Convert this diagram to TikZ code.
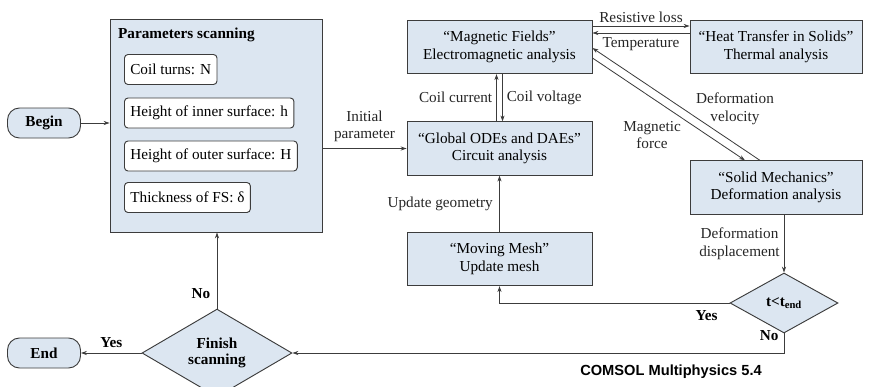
\documentclass[tikz,border=0pt]{standalone}
\usepackage{fontspec}
\setmainfont{Liberation Serif}
\newfontfamily\comsolfont{Liberation Sans}
\usetikzlibrary{arrows.meta,positioning,shapes.geometric,calc}
\definecolor{boxfill}{HTML}{DCE6F1}
\definecolor{lineink}{HTML}{3C3C3C}

\begin{document}
\begin{tikzpicture}[
  x=0.03cm, y=-0.03cm,
  font=\fontsize{13}{15}\selectfont,
  term/.style={draw=lineink, fill=boxfill, line width=0.8pt, rounded corners=0.36cm, minimum width=2.19cm, minimum height=0.9cm, font=\fontsize{13}{15}\selectfont\bfseries},
  blk/.style={draw=lineink, fill=boxfill, line width=0.8pt, minimum width=5.55cm, minimum height=1.6cm, align=center},
  blkr/.style={blk, minimum width=5.16cm},
  parbox/.style={draw=lineink, fill=white, line width=0.8pt, rounded corners=3pt, minimum height=0.9cm, inner xsep=5pt, anchor=west},
  dec/.style={diamond, draw=lineink, fill=boxfill, line width=0.8pt, inner sep=0pt, align=center, font=\fontsize{13}{14}\selectfont\bfseries},
  flow/.style={-{Stealth[length=5pt,width=3.5pt]}, draw=lineink, line width=0.7pt},
  lbl/.style={align=center, text=black!85},
  yn/.style={font=\fontsize{13}{15}\selectfont\bfseries},
]
\useasboundingbox (0,0) rectangle (870,386);
% start, end
\node[term] (begin) at (44,123) {Begin};
\node[term] (end) at (44,353) {End};
% parameter scan block
\node[draw=lineink, fill=boxfill, line width=0.8pt, minimum width=6.36cm, minimum height=6.39cm] (scan) at (216,125.5) {};
\node[font=\fontsize{13}{15}\selectfont\bfseries, anchor=west] (scantitle) at (114,35) {Parameters scanning};
\node[parbox] (pN) at (124,69.5) {Coil turns: N};
\node[parbox] (ph) at (124,113) {Height of inner surface: h};
\node[parbox] (pH) at (124,156) {Height of outer surface: H};
\node[parbox] (pd) at (124,197.5) {Thickness of FS: δ};
% physics modules
\node[blk] (mf) at (499.5,47) {``Magnetic Fields''\\Electromagnetic analysis};
\node[blk] (ode) at (499.5,148.5) {``Global ODEs and DAEs''\\Circuit analysis};
\node[blk] (mesh) at (499.5,259) {``Moving Mesh''\\Update mesh};
\node[blkr] (heat) at (776,47) {``Heat Transfer in Solids''\\Thermal analysis};
\node[blkr] (solid) at (776,187.5) {``Solid Mechanics''\\Deformation analysis};
% decisions
\node[dec, minimum width=3.24cm, minimum height=1.8cm] (tchk) at (784,303) {t<t\textsubscript{end}};
\node[dec, minimum width=4.5cm, minimum height=1.86cm] (fin) at (217,353) {Finish\\scanning};
% connectors
\draw[flow] (begin) -- (begin -| scan.west);
\draw[flow] (scan.east |- ode) -- (ode.west) node[lbl, pos=0.5, above=2pt] {Initial\\parameter};
\draw[flow] ([xshift=-0.09cm]ode.north) -- ([xshift=-0.09cm]mf.south) node[lbl, midway, left] {Coil current};
\draw[flow] ([xshift=0.09cm]mf.south) -- ([xshift=0.09cm]ode.north) node[lbl, midway, right] {Coil voltage};
\draw[flow] (mesh) -- (ode) node[lbl, midway, left=2pt] {Update geometry};
\draw[flow] ([yshift=0.63cm]mf.east) -- ([yshift=0.63cm]heat.west) node[lbl, midway, above=-1pt] {Resistive loss};
\draw[flow] ([yshift=0.42cm]heat.west) -- ([yshift=0.42cm]mf.east) node[lbl, midway, below=0pt] {Temperature};
\draw[flow] ([xshift=-0.48cm]solid.north) -- ([yshift=-0.03cm]mf.east);
\draw[flow] ([yshift=-0.33cm]mf.east) -- ([xshift=-0.93cm]solid.north);
\node[lbl] (velo) at (735,109) {Deformation\\velocity};
\node[lbl] (force) at (652,135) {Magnetic\\force};
\draw[flow] (solid.south -| tchk) -- (tchk.north) node[lbl, midway, left] {Deformation\\displacement};
\draw[flow] (tchk.west) -| (mesh.south) node[yn, pos=0.05, below=3pt] {Yes};
\draw[flow] (tchk.south) |- (fin.east) node[yn, pos=0.06, left=1pt] {No};
\draw[flow] (fin.north) -- (fin.north |- scan.south) node[yn, pos=0.2, left=2pt] {No};
\draw[flow] (fin.west) -- (end.east) node[yn, midway, above=1pt] {Yes};
\node[font=\comsolfont\fontsize{12.5}{14}\selectfont\bfseries] (comsol) at (671,372) {COMSOL Multiphysics 5.4};
\end{tikzpicture}
\end{document}
